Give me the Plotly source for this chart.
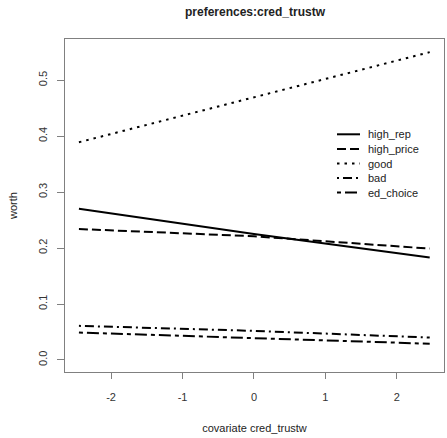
import plotly.graph_objects as go

# ---- data ----
covariate = [-2.45, 0.0, 2.46]
series_names = ["high_rep", "high_price", "good", "bad", "ed_choice"]
high_rep = [0.270, 0.225, 0.183]
high_price = [0.234, 0.221, 0.199]
good = [0.389, 0.469, 0.550]
bad = [0.061, 0.052, 0.040]
ed_choice = [0.049, 0.039, 0.029]
x_ticks = [-2, -1, 0, 1, 2]
y_ticks = [0.0, 0.1, 0.2, 0.3, 0.4, 0.5]

series_values = [high_rep, high_price, good, bad, ed_choice]
dashes = ["solid", "9px,4px", "2.5px,5px", "2px,4px,9px,4px", "4px,4px,12px,4px"]

W, H = 447, 438
L, R, T, B = 65, 444, 39, 372  # plot box in pixels

FONT = "Liberation Sans, Arial, sans-serif"

fig = go.Figure()
for name, vals, d in zip(series_names, series_values, dashes):
    fig.add_trace(go.Scatter(
        x=covariate, y=vals, mode="lines", name=name,
        line=dict(color="black", width=2, dash=d),
        showlegend=False, hoverinfo="skip",
    ))

def px_x(p):
    return (p - L) / (R - L)

def px_y(p):
    return (B - p) / (B - T)

# manual legend (R-style, no box)
row_y = [134.3, 149.0, 163.5, 178.0, 192.5]
shapes = []
annotations = []
for name, d, ry in zip(series_names, dashes, row_y):
    shapes.append(dict(type="line", xref="paper", yref="paper",
                       x0=px_x(337), x1=px_x(360), y0=px_y(ry), y1=px_y(ry),
                       line=dict(color="black", width=2, dash=d)))
    annotations.append(dict(text=name, xref="paper", yref="paper",
                            x=px_x(366), y=px_y(ry), xanchor="left", yanchor="middle",
                            showarrow=False, font=dict(family=FONT, size=11, color="#222")))

fig.update_layout(
    width=W, height=H,
    margin=dict(l=L, r=W - R, t=T, b=H - B, pad=0, autoexpand=False),
    paper_bgcolor="white", plot_bgcolor="white",
    title=dict(text="<b>preferences:cred_trustw</b>", x=255 / W, xanchor="center",
               y=1 - 12 / H, yanchor="middle", automargin=False,
               font=dict(family=FONT, size=12, color="#222")),
    shapes=shapes, annotations=annotations,
    showlegend=False,
)
fig.update_xaxes(
    automargin=False,
    range=[-2.645, 2.66], tickvals=x_ticks, ticktext=[str(v) for v in x_ticks],
    showgrid=False, zeroline=False, showline=True, mirror=True,
    linecolor="#808080", linewidth=1,
    ticks="outside", ticklen=6, tickcolor="#808080",
    tickfont=dict(family=FONT, size=11, color="#333"),
    ticklabelstandoff=9,
    title=dict(text="covariate cred_trustw", font=dict(family=FONT, size=11, color="#222"),
               standoff=22),
)
fig.update_yaxes(
    automargin=False,
    range=[-0.0215, 0.5735], tickvals=y_ticks, ticktext=[f"{v:.1f}" for v in y_ticks],
    showgrid=False, zeroline=False, showline=True, mirror=True,
    linecolor="#808080", linewidth=1,
    ticks="outside", ticklen=7, tickcolor="#808080",
    tickangle=-90,
    tickfont=dict(family=FONT, size=11, color="#333"),
    ticklabelstandoff=6,
    title=dict(text="worth", font=dict(family=FONT, size=11, color="#222"), standoff=16),
)

fig.write_html("out.html", config={"displayModeBar": False},
               post_script="document.body.style.margin='0';")
